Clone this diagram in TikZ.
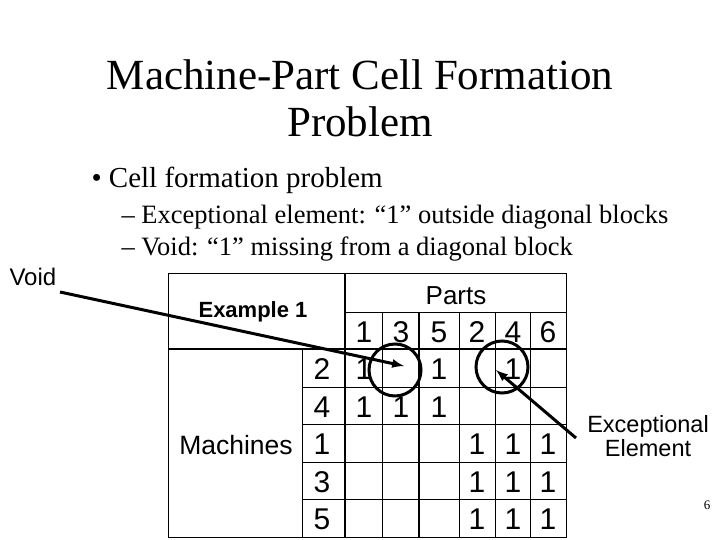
\documentclass[tikz,border=0pt]{standalone}
\usepackage{fontspec}
\setmainfont{Liberation Serif}
\setsansfont{Liberation Sans}
\begin{document}
\begin{tikzpicture}[x=1pt,y=-1pt,
  thin line/.style={line width=1pt},
  thick line/.style={line width=2pt},
  cell/.style={font=\sffamily\fontsize{30}{30}\selectfont, inner sep=0pt, text height=22pt, text depth=0pt},
  ring/.style={draw, line width=3pt, circle, minimum size=52pt, inner sep=0pt},
  pointer/.style={line width=3pt, -latex}]
\useasboundingbox (0,0) rectangle (720,540);
\node (t1) at (360,75) {\fontsize{43}{43}\selectfont Machine-Part Cell Formation};
\node (t2) at (360,122) {\fontsize{43}{43}\selectfont Problem};
\node[anchor=west] (b1) at (88,180) {\fontsize{29}{29}\selectfont • Cell formation problem};
\node[anchor=west] (s1) at (118,217) {\fontsize{26.5}{26.5}\selectfont -- Exceptional element: “1” outside diagonal blocks};
\node[anchor=west] (s2) at (118,249) {\fontsize{26.5}{26.5}\selectfont -- Void: “1” missing from a diagonal block};
\node[anchor=west,font=\sffamily\fontsize{24}{24}\selectfont] (void) at (6,277) {Void};
\node[font=\sffamily\fontsize{23.5}{23.5}\selectfont, align=center] (exc) at (648,436) {Exceptional\\Element};
\node[font=\fontsize{13}{13}\selectfont] (pg) at (707,505) {6};
% table
\draw[thin line] (168,273) rectangle (566,537);
\draw[thick line] (345,273) -- (345,537);
\draw[thick line] (168,349) -- (566,349);
\draw[thin line] (345,312) -- (566,312);
\draw[thin line] (302,349) -- (302,537);
\foreach \x in {382,459,495,530} \draw[thin line] (\x,312) -- (\x,537);
\draw[thick line] (419,312) -- (419,537);
\foreach \y in {387,424,462,499} \draw[thin line] (302,\y) -- (566,\y);
\node[font=\sffamily\bfseries\fontsize{22}{22}\selectfont] (ex) at (253,312) {Example 1};
\node[cell,font=\sffamily\fontsize{26}{26}\selectfont] (parts) at (456,293) {Parts};
\node[cell,font=\sffamily\fontsize{26.5}{26.5}\selectfont] (mach) at (236,443) {Machines};
\foreach \v/\x in {1/364,3/401,5/439,2/477,4/513,6/548} \node[cell] (p\v) at (\x,331) {\v};
\foreach \v/\y in {2/368,4/406,1/443,3/481,5/518} \node[cell] (m\v) at (322,\y) {\v};
\foreach \x/\y in {364/368,439/368,513/368,364/406,401/406,439/406,
  477/443,513/443,548/443,477/481,513/481,548/481,477/518,513/518,548/518}
  \node[cell] at (\x,\y) {1};
\node[ring] (c1) at (395,370) {};
\node[ring] (c2) at (502,367) {};
\coordinate (a1) at (404,366);
\coordinate (a2) at (496,370);
\coordinate (v0) at (60,292);
\coordinate (e0) at (576,438);
\draw[pointer] (v0) -- (a1);
\draw[pointer] (e0) -- (a2);
\end{tikzpicture}
\end{document}
